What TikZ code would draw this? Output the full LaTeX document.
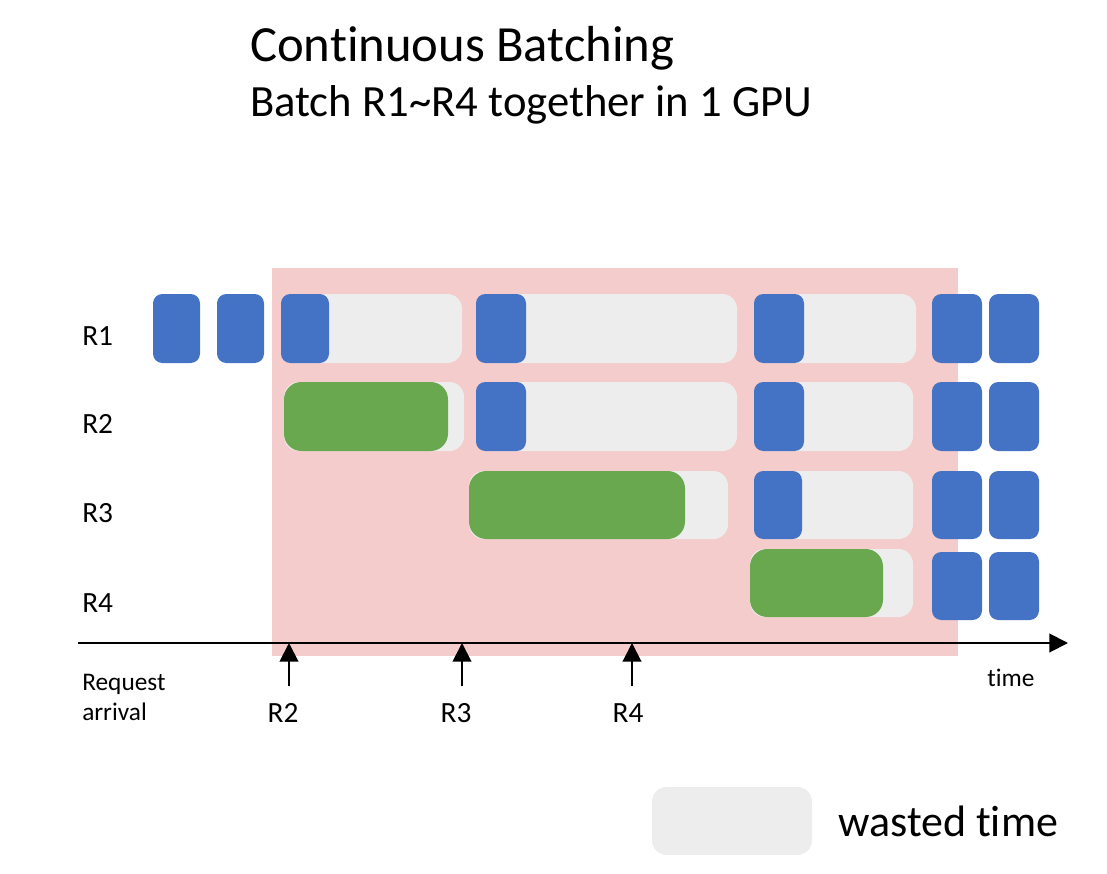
\documentclass[tikz,border=0pt]{standalone}
\usepackage{fontspec}
\setmainfont{Carlito}[Ligatures={NoCommon}]
\usetikzlibrary{arrows.meta}
\definecolor{blk}{HTML}{4472C4}
\definecolor{grn}{HTML}{6AA84F}
\definecolor{wst}{HTML}{EDEDED}
\definecolor{pnk}{HTML}{F4CCCC}
\tikzset{
  blueblk/.style={fill=blk, rounded corners=7pt},
  greenblk/.style={fill=grn, rounded corners=13pt},
  wastebar/.style={fill=wst, rounded corners=11pt},
  rowlabel/.style={anchor=base west, inner sep=0pt, font=\fontsize{22}{26}\selectfont},
  arrlabel/.style={anchor=base, inner sep=0pt, font=\fontsize{22}{26}\selectfont},
  smalllabel/.style={inner sep=0pt, font=\fontsize{19}{23}\selectfont},
  arrivalarrow/.style={line width=1.5pt, -{Triangle[length=14pt,width=14pt]}},
}
\begin{document}
\begin{tikzpicture}[x=0.75pt,y=-0.75pt]
\useasboundingbox (0,0) rectangle (1107,874);
% titles
\node[anchor=base west, inner sep=0pt, font=\fontsize{38}{44}\selectfont] (title) at (250,62) {Continuous Batching};
\node[anchor=base west, inner sep=0pt, font=\fontsize{33.5}{40}\selectfont] (subtitle) at (250,117) {Batch R1\textasciitilde R4 together in 1 GPU};
% batch window
\fill[pnk] (272,268) rectangle (958,656);
% wasted-time bars
\fill[wastebar] (281,294) rectangle (462,363);
\fill[wastebar] (476,294) rectangle (737,363);
\fill[wastebar] (754,294) rectangle (916,363);
\fill[wastebar] (284,382) rectangle (464,451);
\fill[wastebar] (476,382) rectangle (737,451);
\fill[wastebar] (754,382) rectangle (913,451);
\fill[wastebar] (469,471) rectangle (728,539);
\fill[wastebar] (754,471) rectangle (913,539);
\fill[wastebar] (750,549) rectangle (913,617);
% R1
\fill[blueblk] (153,294) rectangle (200,363);
\fill[blueblk] (217,294) rectangle (264,363);
\fill[blueblk] (281,294) rectangle (329,363);
\fill[blueblk] (476,294) rectangle (526,363);
\fill[blueblk] (754,294) rectangle (804,363);
\fill[blueblk] (932,294) rectangle (982,363);
\fill[blueblk] (989,294) rectangle (1039,363);
% R2
\fill[greenblk] (284,382) rectangle (448,451);
\fill[blueblk] (476,382) rectangle (526,451);
\fill[blueblk] (754,382) rectangle (804,451);
\fill[blueblk] (932,382) rectangle (982,451);
\fill[blueblk] (989,382) rectangle (1039,451);
% R3
\fill[greenblk] (469,471) rectangle (685,539);
\fill[blueblk] (754,471) rectangle (802,539);
\fill[blueblk] (932,471) rectangle (982,539);
\fill[blueblk] (989,471) rectangle (1039,539);
% R4
\fill[greenblk] (750,549) rectangle (883,617);
\fill[blueblk] (932,552) rectangle (982,620);
\fill[blueblk] (989,552) rectangle (1039,620);
% row labels
\node[rowlabel] (r1) at (82,345) {R1};
\node[rowlabel] (r2) at (82,433) {R2};
\node[rowlabel] (r3) at (82,522) {R3};
\node[rowlabel] (r4) at (82,612) {R4};
% time axis
\coordinate (axstart) at (78,643);
\coordinate (axend) at (1068,643);
\draw[line width=1.5pt, -{Triangle[length=14pt,width=14pt]}] (axstart) -- (axend);
% arrivals
\coordinate (a2b) at (289,686);
\coordinate (a2t) at (289,643);
\coordinate (a3b) at (462,686);
\coordinate (a3t) at (462,643);
\coordinate (a4b) at (632,686);
\coordinate (a4t) at (632,643);
\draw[arrivalarrow] (a2b) -- (a2t);
\draw[arrivalarrow] (a3b) -- (a3t);
\draw[arrivalarrow] (a4b) -- (a4t);
\node[arrlabel] (l2) at (283,722) {R2};
\node[arrlabel] (l3) at (456,722) {R3};
\node[arrlabel] (l4) at (628,722) {R4};
\node[smalllabel, anchor=base west] (req) at (82,690) {Request};
\node[smalllabel, anchor=base west] (arr) at (82,720) {arrival};
\node[smalllabel, anchor=base west] (time) at (987,686) {time};
% legend
\fill[wastebar] (652,787) rectangle (812,855);
\node[anchor=base west, inner sep=0pt, font=\fontsize{33}{40}\selectfont] (legend) at (838,836) {wasted time};
\end{tikzpicture}
\end{document}
